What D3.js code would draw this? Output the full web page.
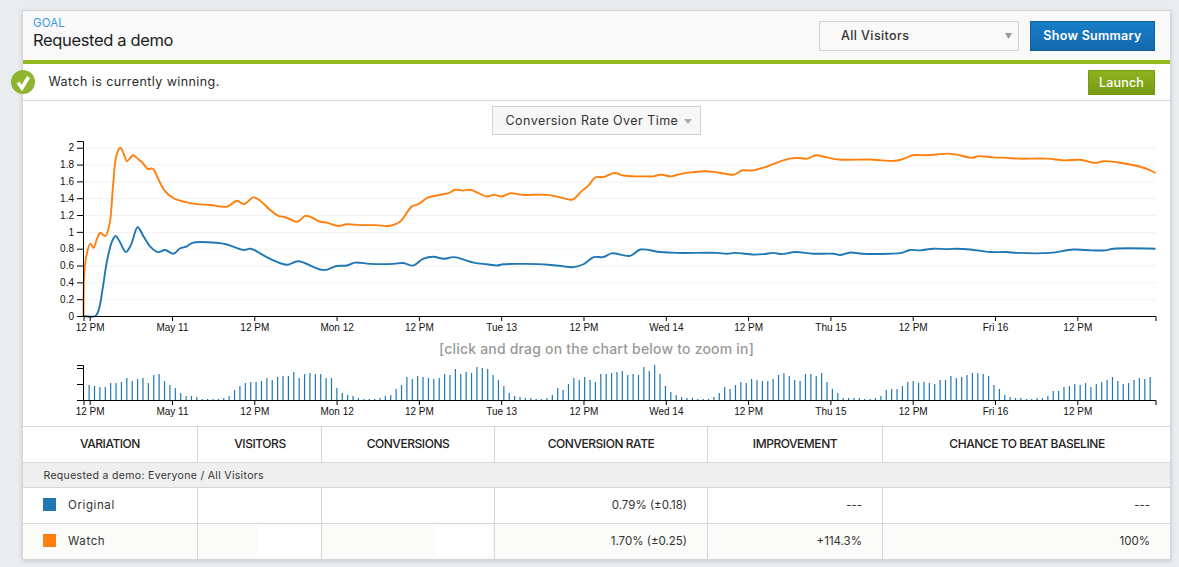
<!DOCTYPE html>
<html>
<head>
<meta charset="utf-8">
<title>Requested a demo</title>
<script src="https://cdn.jsdelivr.net/npm/d3@7"></script>
<style>
  html, body { margin: 0; padding: 0; background: #e9edf0; overflow: hidden; }
  text { font-family: Inter, "Open Sans", sans-serif; fill: #2b2b2b; }
  .axis text { font-family: "Liberation Sans", Arial, sans-serif; font-size: 10px; fill: #111; }
  .axis path, .axis line { stroke: #000; fill: none; }
  .grid line { stroke: #f2f2f2; }
  .grid path { display: none; }
</style>
</head>
<body>
<div id="chart-area"></div>
<script>
// Hours are counted from 12 PM on May 10
const xDomain = [-0.9, 155.4];

const originalHours = [-0.9, 0.83, 1.31, 1.94, 2.52, 3.25, 3.79, 4.37, 5.29, 6.02, 7.0, 7.86, 8.83, 9.95, 11.0, 12.2, 13.2, 14.1, 15.0, 18.5, 20.0, 22.4, 23.5, 25.8, 28.7, 30.4, 34.1, 36.0, 37.5, 38.7, 40.9, 44.3, 45.7, 47.2, 48.6, 50.1, 51.6, 53.1, 56.0, 57.9, 59.4, 60.3, 66.9, 69.1, 70.4, 72.0, 73.5, 74.9, 76.1, 78.8, 80.3, 83.2, 85.6, 91.4, 92.9, 94.1, 96.8, 98.3, 99.7, 100.9, 102.9, 105.5, 108.5, 109.4, 110.9, 112.6, 116.7, 118.4, 119.6, 121.1, 123.0, 125.0, 126.4, 128.4, 131.3, 133.7, 135.2, 140.0, 143.4, 146.1, 148.1, 149.3, 155.4];
const originalRate = [0, 0, 0.07, 0.35, 0.65, 0.885, 0.95, 0.885, 0.76, 0.845, 1.055, 0.945, 0.825, 0.76, 0.785, 0.74, 0.805, 0.825, 0.87, 0.87, 0.85, 0.785, 0.80, 0.70, 0.61, 0.65, 0.545, 0.595, 0.60, 0.635, 0.62, 0.62, 0.63, 0.60, 0.68, 0.705, 0.68, 0.70, 0.635, 0.615, 0.60, 0.615, 0.61, 0.59, 0.58, 0.615, 0.70, 0.70, 0.745, 0.715, 0.79, 0.76, 0.75, 0.75, 0.74, 0.75, 0.73, 0.735, 0.75, 0.735, 0.76, 0.74, 0.74, 0.725, 0.755, 0.74, 0.74, 0.75, 0.785, 0.78, 0.80, 0.795, 0.80, 0.79, 0.76, 0.76, 0.75, 0.75, 0.79, 0.78, 0.78, 0.80, 0.80];

const watchHours = [-0.9, -0.78, -0.49, 0.1, 0.58, 1.07, 1.55, 2.28, 2.91, 3.4, 3.88, 4.47, 4.95, 5.44, 5.83, 6.31, 7.0, 7.62, 8.45, 9.22, 10.05, 11.02, 12.23, 13.69, 15.63, 17.57, 20.0, 21.46, 22.52, 23.88, 24.85, 26.31, 27.52, 28.25, 29.22, 30.29, 31.41, 32.14, 33.6, 34.56, 36.26, 37.48, 39.42, 41.84, 43.54, 45.24, 46.94, 47.91, 49.37, 51.07, 52.33, 53.3, 54.5, 55.5, 56.7, 57.9, 58.9, 60.1, 61.4, 63.0, 66.7, 68.6, 70.4, 71.8, 72.7, 73.8, 74.9, 76.5, 77.8, 79.3, 80.8, 82.2, 83.3, 84.7, 86.2, 88.0, 89.7, 91.2, 92.7, 94.0, 95.1, 96.5, 98.5, 100.4, 102.1, 103.1, 104.6, 105.9, 107.5, 109.2, 113.8, 115.5, 117.5, 118.7, 120.0, 122.1, 123.5, 125.2, 126.9, 128.6, 129.6, 131.8, 133.7, 135.4, 139.6, 142.0, 144.4, 146.6, 147.8, 150.0, 152.9, 154.4, 155.4];
const watchRate = [0, 0.51, 0.71, 0.86, 0.81, 0.92, 0.99, 0.95, 1.10, 1.54, 1.90, 2.00, 1.93, 1.84, 1.87, 1.91, 1.87, 1.83, 1.75, 1.75, 1.62, 1.48, 1.40, 1.36, 1.33, 1.32, 1.30, 1.37, 1.33, 1.41, 1.37, 1.26, 1.19, 1.18, 1.15, 1.12, 1.19, 1.18, 1.12, 1.11, 1.07, 1.09, 1.08, 1.08, 1.07, 1.12, 1.30, 1.33, 1.41, 1.44, 1.46, 1.50, 1.49, 1.50, 1.46, 1.42, 1.44, 1.42, 1.46, 1.44, 1.44, 1.41, 1.385, 1.49, 1.55, 1.65, 1.65, 1.70, 1.67, 1.66, 1.66, 1.66, 1.68, 1.66, 1.69, 1.71, 1.72, 1.71, 1.69, 1.68, 1.73, 1.73, 1.77, 1.83, 1.87, 1.88, 1.87, 1.91, 1.885, 1.86, 1.86, 1.85, 1.845, 1.87, 1.91, 1.91, 1.92, 1.93, 1.91, 1.88, 1.90, 1.885, 1.88, 1.87, 1.87, 1.85, 1.857, 1.82, 1.84, 1.825, 1.78, 1.74, 1.70];

// Visitors per time bin, first bin just before 12 PM on May 10
const binStart = -0.08;
const binHours = 0.7853;
const visitorBins = [15, 14, 13, 13, 17, 17, 18, 22, 19, 21, 22, 17, 25, 26, 19, 15, 12, 7, 4, 4, 3, 1, 1, 1, 1, 2, 4, 10, 14, 17, 18, 18, 19, 22, 20, 23, 24, 24, 28, 22, 26, 27, 26, 26, 22, 22, 12, 7, 5, 4, 2, 1, 1, 1, 2, 4, 5, 11, 15, 23, 21, 24, 23, 22, 21, 22,
  26, 25, 31, 26, 28, 27, 33, 32, 31, 25, 20, 14, 7, 4, 3, 2, 2, 1, 1, 2, 5, 12, 10, 16, 22, 20, 23, 20, 18, 26, 26, 27, 28, 29, 25, 26, 25, 33, 29, 35, 26, 14, 8, 5, 3, 2, 2, 1, 1, 1, 3, 7, 13, 11, 15, 18, 17, 21, 20, 19, 19, 21, 25, 27, 24, 20, 19,
  26, 26, 24, 27, 18, 11, 7, 2, 2, 2, 2, 1, 1, 2, 4, 10, 11, 11, 14, 18, 19, 17, 18, 17, 16, 20, 20, 24, 22, 23, 25, 27, 27, 26, 24, 15, 11, 5, 3, 2, 2, 1, 1, 2, 2, 4, 9, 9, 13, 14, 16, 15, 17, 13, 16, 18, 20, 23, 19, 16, 17, 20, 22, 21, 23];

const xTickHours = [0, 12, 24, 36, 48, 60, 72, 84, 96, 108, 120, 132, 144];
const xTickLabels = ["12 PM", "May 11", "12 PM", "Mon 12", "12 PM", "Tue 13", "12 PM", "Wed 14", "12 PM", "Thu 15", "12 PM", "Fri 16", "12 PM"];
const yTicks = [0, 0.2, 0.4, 0.6, 0.8, 1, 1.2, 1.4, 1.6, 1.8, 2];
const miniTicks = [0, 16, 32];

const tableColumns = ["VARIATION", "VISITORS", "CONVERSIONS", "CONVERSION RATE", "IMPROVEMENT", "CHANCE TO BEAT BASELINE"];
const variations = ["Original", "Watch"];
const variationColors = ["#1f77b4", "#ff7f0e"];
const rateCells = ["0.79% (±0.18)", "1.70% (±0.25)"];
const improvementCells = ["---", "+114.3%"];
const chanceCells = ["---", "100%"];

const svg = d3.select("#chart-area").append("svg")
  .attr("width", 1179)
  .attr("height", 567)
  .style("display", "block");

function box(x, y, w, h, fill, stroke) {
  return svg.append("rect")
    .attr("x", x).attr("y", y).attr("width", w).attr("height", h)
    .attr("fill", fill).attr("stroke", stroke || "none");
}

function label(x, y, str, size, anchor, color, weight, spacing) {
  return svg.append("text")
    .attr("x", x).attr("y", y)
    .attr("text-anchor", anchor || "start")
    .style("font-size", size + "px")
    .style("fill", color || "#2b2b2b")
    .style("font-weight", weight || 400)
    .style("letter-spacing", (spacing || 0) + "px")
    .text(str);
}

function hline(y, x1, x2, color) {
  svg.append("line").attr("x1", x1).attr("x2", x2).attr("y1", y).attr("y2", y)
    .attr("stroke", color || "#d6d6d6");
}

function vline(x, y1, y2, color) {
  svg.append("line").attr("x1", x).attr("x2", x).attr("y1", y1).attr("y2", y2)
    .attr("stroke", color || "#d6d6d6");
}

// Panel
const defs = svg.append("defs");
const shadow = defs.append("filter").attr("id", "panel-shadow");
shadow.append("feDropShadow").attr("dx", 0).attr("dy", 1).attr("stdDeviation", 2).attr("flood-color", "#000").attr("flood-opacity", 0.15);
const blueGrad = defs.append("linearGradient").attr("id", "blue-btn").attr("x2", 0).attr("y2", 1);
blueGrad.append("stop").attr("offset", 0).attr("stop-color", "#187fc9");
blueGrad.append("stop").attr("offset", 1).attr("stop-color", "#1268ab");
const greenGrad = defs.append("linearGradient").attr("id", "green-btn").attr("x2", 0).attr("y2", 1);
greenGrad.append("stop").attr("offset", 0).attr("stop-color", "#8fb31f");
greenGrad.append("stop").attr("offset", 1).attr("stop-color", "#769a12");

box(22.5, 10.5, 1148, 549, "#fff", "#d6d6d6").attr("filter", "url(#panel-shadow)");
box(23, 11, 1147, 49, "#f9f9f9");
box(23, 60, 1147, 4, "#94b81f");
hline(100.5, 23, 1170);

// Header
label(33, 27, "GOAL", 11.5, "start", "#3a9ad9", 400, 0.1);
label(33, 46, "Requested a demo", 16.5, "start", "#222", 400, -0.35);
box(819.5, 21.5, 199, 29, "#f9f9f9", "#d2d2d2");
label(841, 39.5, "All Visitors", 12.5, "start", "#333", 500, 0.4);
svg.append("path").attr("d", "M1005 33h7l-3.5 6z").attr("fill", "#999");
box(1030.5, 21.5, 124, 29, "url(#blue-btn)", "#11609e");
label(1092.5, 39.5, "Show Summary", 12.5, "middle", "#fff", 600, 0.3);

// Status row
svg.append("circle").attr("cx", 23).attr("cy", 82).attr("r", 12).attr("fill", "#8fb52f");
svg.append("path").attr("d", "M18 82.5l4 5.5l6.5-11").attr("fill", "none").attr("stroke", "#fff").attr("stroke-width", 3.6);
label(48.5, 86, "Watch is currently winning.", 12.5, "start", "#2b2b2b", 400, 0.42);
box(1088.5, 70.5, 66, 24, "url(#green-btn)", "#769a12");
label(1121.5, 87, "Launch", 12.5, "middle", "#fff", 500, 0.2);

// Chart selector
box(492.5, 106.5, 208, 28, "#f7f7f7", "#d2d2d2");
label(505.5, 125, "Conversion Rate Over Time", 12.5, "start", "#333", 400, 0.45);
svg.append("path").attr("d", "M684 119h8l-4 5z").attr("fill", "#aaa");

// Scales
const x = d3.scaleLinear().domain(xDomain).range([83.5, 1155.5]);
const y = d3.scaleLinear().domain([0, 2.08]).range([316, 141]);
const yMini = d3.scaleLinear().domain([0, 35]).range([400, 365]);

// Gridlines
svg.append("g")
  .attr("class", "grid")
  .attr("transform", "translate(83.5,0)")
  .call(d3.axisLeft(y).tickValues(yTicks.slice(1)).tickSize(-1072).tickFormat(""));

// Conversion rate lines
const line = d3.line()
  .x(d => x(d[0]))
  .y(d => y(d[1]))
  .curve(d3.curveCatmullRom.alpha(0.5));

[[originalHours, originalRate], [watchHours, watchRate]].forEach((s, i) => {
  svg.append("path")
    .datum(d3.zip(s[0], s[1]))
    .attr("d", line)
    .attr("fill", "none")
    .attr("stroke", variationColors[i])
    .attr("stroke-width", 1.9);
});

// Main axes
const xTickLabel = (d, i) => xTickLabels[i];

svg.append("g")
  .attr("class", "axis")
  .attr("transform", "translate(0,316)")
  .call(d3.axisBottom(x).tickValues(xTickHours).tickFormat(xTickLabel).tickSize(5).tickSizeOuter(5));

svg.append("g")
  .attr("class", "axis")
  .attr("transform", "translate(83,0)")
  .call(d3.axisLeft(y).tickValues(yTicks).tickFormat(d3.format("")).tickSize(6).tickSizeOuter(6));

// Zoom hint
label(596.5, 354, "[click and drag on the chart below to zoom in]", 14, "middle", "#999", 500, 0.2);

// Visitor bars
svg.append("g").selectAll("line")
  .data(visitorBins)
  .join("line")
  .attr("x1", (d, i) => x(binStart + i * binHours))
  .attr("x2", (d, i) => x(binStart + i * binHours))
  .attr("y1", yMini(0))
  .attr("y2", d => yMini(d))
  .attr("stroke", "#1f77b4")
  .attr("stroke-width", 1.2);

svg.append("g")
  .attr("class", "axis")
  .attr("transform", "translate(0,400)")
  .call(d3.axisBottom(x).tickValues(xTickHours).tickFormat(xTickLabel).tickSize(5).tickSizeOuter(5));

svg.append("g")
  .attr("class", "axis")
  .attr("transform", "translate(83,0)")
  .call(d3.axisLeft(yMini).tickValues(miniTicks).tickFormat("").tickSize(6).tickSizeOuter(6));

// Table
const columnEdges = [197.5, 321.5, 494.5, 707.5, 882.5];
const columnCenters = [110, 260, 408, 601, 795, 1027];

box(23, 462.5, 1147, 25, "#efefef");
box(23, 523.5, 1147, 35.5, "#fbfbf9");
// Cleared cells in the Watch row
box(257, 527, 63, 29, "#fff");
box(436, 527, 55, 29, "#fff");

[426.5, 462.5, 487.5, 523.5].forEach(rowY => hline(rowY, 23, 1170));
columnEdges.forEach(edge => {
  vline(edge, 426.5, 462.5);
  vline(edge, 487.5, 559);
});

tableColumns.forEach((c, i) => {
  label(columnCenters[i], 447.5, c, 12, "middle", "#222", 500, -0.45);
});

label(43.5, 479, "Requested a demo: Everyone / All Visitors", 10.5, "start", "#333", 400, 0.32);

variations.forEach((v, i) => {
  const rowY = 505 + i * 36;
  box(43, rowY - 7, 13, 13, variationColors[i]);
  label(68, rowY + 4, v, 11.5, "start", "#333", 400, 0.6);
  label(687, rowY + 4, rateCells[i], 11.5, "end", "#333");
  label(862, rowY + 4, improvementCells[i], 11.5, "end", "#333");
  label(1150, rowY + 4, chanceCells[i], 11.5, "end", "#333");
});
</script>
</body>
</html>
